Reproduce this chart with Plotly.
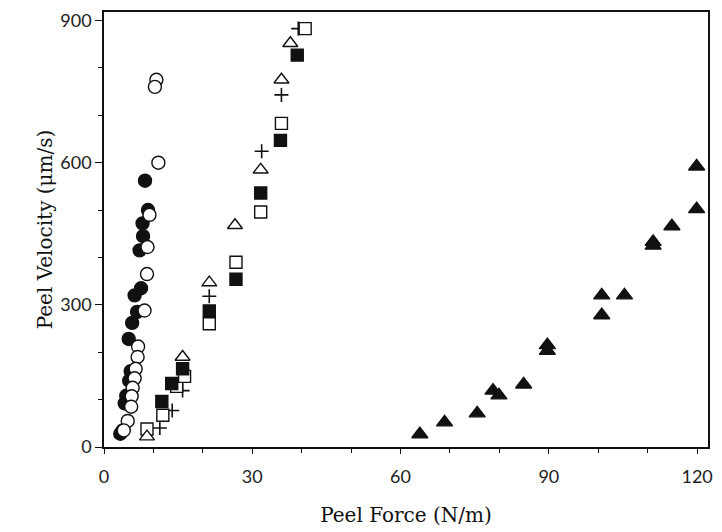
import plotly.graph_objects as go

# ---- data (Peel Force N/m, Peel Velocity um/s) ----
open_circle_x = [10.6, 10.3, 11.0, 9.2, 8.8, 8.7, 8.2, 6.9, 6.8, 6.4, 6.2, 5.8, 5.6, 5.5, 4.8, 4.0]
open_circle_y = [775, 760, 600, 490, 422, 365, 288, 212, 190, 165, 145, 125, 107, 85, 55, 35]

filled_circle_x = [8.3, 8.9, 7.8, 7.9, 7.2, 7.5, 6.2, 6.7, 5.7, 5.0, 5.4, 5.1, 4.5, 4.2, 3.8, 3.3]
filled_circle_y = [562, 500, 472, 445, 415, 335, 320, 285, 262, 228, 160, 140, 108, 92, 35, 28]

open_tri_x = [8.7, 15.9, 21.3, 26.5, 31.7, 35.9, 37.7]
open_tri_y = [22, 190, 347, 468, 585, 775, 852]

plus_x = [11.3, 13.8, 15.9, 21.3, 31.9, 35.9, 39.3]
plus_y = [40, 77, 119, 318, 624, 743, 883]

open_sq_x = [8.7, 11.9, 14.7, 16.3, 21.3, 26.7, 31.7, 35.9, 40.7]
open_sq_y = [38, 67, 128, 149, 260, 390, 496, 683, 883]

filled_sq_x = [11.7, 13.7, 15.9, 21.3, 26.7, 31.7, 35.7, 39.1]
filled_sq_y = [96, 134, 165, 287, 354, 536, 647, 827]

filled_tri_x = [63.9, 68.9, 75.5, 78.7, 79.9, 84.9, 89.7, 89.7, 100.7, 100.7, 105.3, 111.1, 111.1, 114.9, 119.9, 119.9]
filled_tri_y = [27, 52, 71, 119, 109, 132, 215, 203, 278, 320, 320, 433, 425, 466, 502, 592]

x_ticks = [0, 30, 60, 90, 120]
y_ticks = [0, 300, 600, 900]

BLACK = "#111111"

fig = go.Figure()

def add(x, y, symbol, size, fill, lw=1.4):
    fig.add_trace(go.Scatter(
        x=x, y=y, mode="markers", showlegend=False,
        marker=dict(symbol=symbol, size=size, color=fill,
                    line=dict(color=BLACK, width=lw)),
        cliponaxis=False))

add(filled_circle_x, filled_circle_y, "circle", 13, BLACK)
add(open_circle_x, open_circle_y, "circle", 13, "white")
add(plus_x, plus_y, "cross-thin", 10, BLACK, 1.6)
add(open_sq_x, open_sq_y, "square", 12, "white")
add(filled_sq_x, filled_sq_y, "square", 12, BLACK)
add(open_tri_x, open_tri_y, "triangle-up", 13, "white")
add(filled_tri_x, filled_tri_y, "triangle-up", 14, BLACK)

fig.update_layout(
    width=722, height=532,
    margin=dict(l=104, r=9, t=10, b=83),
    paper_bgcolor="white", plot_bgcolor="white",
    xaxis=dict(
        range=[0, 122.2], tickvals=x_ticks, ticktext=[str(v) for v in x_ticks],
        showgrid=False, zeroline=False, showline=True, linecolor=BLACK,
        linewidth=1.5, mirror=True, ticks="outside", ticklen=5, tickwidth=1.2,
        tickcolor=BLACK, ticklabelstandoff=8,
        minor=dict(dtick=10, ticks="outside", ticklen=4, tickwidth=1, tickcolor=BLACK),
        tickfont=dict(family="Lato", size=18, color="#222222"),
        title=dict(text="Peel Force (N/m)", standoff=22,
                   font=dict(family="DejaVu Serif", size=20, color=BLACK)),
    ),
    yaxis=dict(
        range=[0, 918], tickvals=y_ticks, ticktext=[str(v) for v in y_ticks],
        showgrid=False, zeroline=False, showline=True, linecolor=BLACK,
        linewidth=1.5, mirror=True, ticks="outside", ticklen=7, tickwidth=1.2,
        tickcolor=BLACK,
        minor=dict(dtick=100, ticks="outside", ticklen=4, tickwidth=1, tickcolor=BLACK),
        tickfont=dict(family="Lato", size=18, color="#222222"),
        title=dict(text="Peel Velocity (\u03bcm/s)", standoff=2,
                   font=dict(family="DejaVu Serif", size=20, color=BLACK)),
    ),
)

fig.write_html("out.html",
               config={"displayModeBar": False},
               post_script="document.body.style.margin='0';document.body.style.overflow='hidden';")
